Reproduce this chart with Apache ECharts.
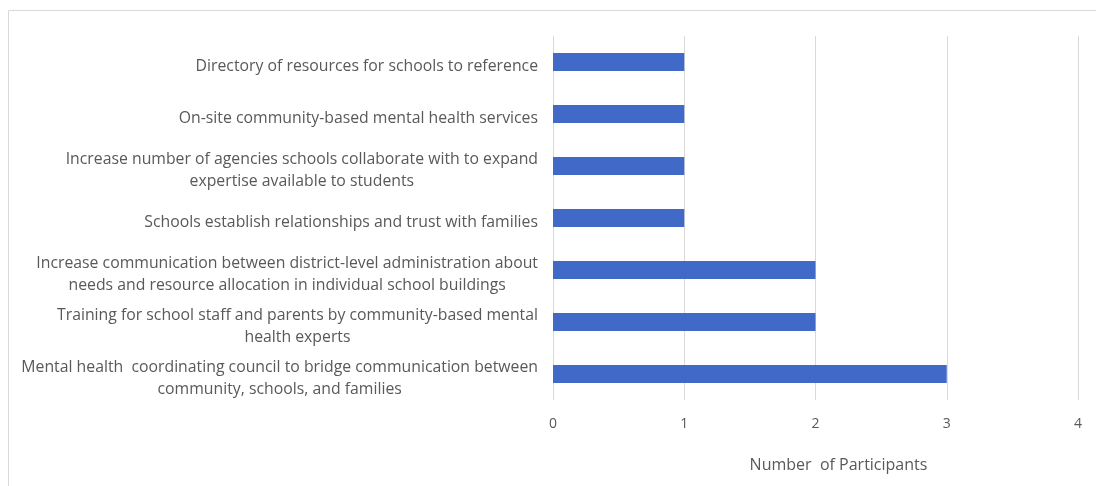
<!DOCTYPE html>
<html>
<head>
<meta charset="utf-8">
<script src="https://cdn.jsdelivr.net/npm/echarts@6/dist/echarts.min.js"></script>
<style>
  html, body { margin: 0; padding: 0; background: #fff; }
  #chart { width: 1096px; height: 486px; }
</style>
</head>
<body>
<div id="chart"></div>
<script>
// Categories listed bottom to top (as drawn on the category axis)
const categories = [
  "Mental health  coordinating council to bridge communication between\ncommunity, schools, and families",
  "Training for school staff and parents by community-based mental\nhealth experts",
  "Increase communication between district-level administration about\nneeds and resource allocation in individual school buildings",
  "Schools establish relationships and trust with families",
  "Increase number of agencies schools collaborate with to expand\nexpertise available to students",
  "On-site community-based mental health services",
  "Directory of resources for schools to reference"
];
const participants = [3, 2, 2, 1, 1, 1, 1];
const xTicks = [0, 1, 2, 3, 4];
const xAxisTitle = "Number  of Participants";

const textColor = '#595959';
const labelFont = 'Open Sans';
const chart = echarts.init(document.getElementById('chart'), null, { renderer: 'canvas' });
chart.setOption({
  animation: false,
  backgroundColor: '#ffffff',
  graphic: [{
    type: 'rect',
    shape: { x: 8.5, y: 10.5, width: 1200, height: 600 },
    style: { fill: 'none', stroke: '#d9d9d9', lineWidth: 1 },
    silent: true,
    z: -10
  }],
  grid: { left: 553, right: 18, top: 36, bottom: 86, containLabel: false },
  xAxis: {
    type: 'value',
    min: xTicks[0],
    max: xTicks[xTicks.length - 1],
    interval: 1,
    name: xAxisTitle,
    nameLocation: 'middle',
    nameGap: 57,
    nameTextStyle: {
      color: textColor, fontFamily: labelFont, fontSize: 16,
      padding: [0, 0, 0, 46]
    },
    axisLine: { show: false },
    axisTick: { show: false },
    axisLabel: { color: textColor, fontFamily: labelFont, fontSize: 14, margin: 17 },
    splitLine: { show: true, lineStyle: { color: '#d9d9d9', width: 1 } }
  },
  yAxis: {
    type: 'category',
    data: categories,
    axisLine: { show: false },
    axisTick: { show: false },
    splitLine: { show: false },
    axisLabel: {
      margin: 15,
      color: textColor,
      fontFamily: labelFont,
      fontSize: 15.8,
      lineHeight: 22,
      padding: [8, 0, 0, 0],
      formatter: function (v) {
        return v.split('\n').map(function (l) { return '{c|' + l + '}'; }).join('\n');
      },
      rich: {
        c: { align: 'center', color: textColor, fontFamily: labelFont, fontSize: 15.8, lineHeight: 22 }
      }
    }
  },
  series: [{
    type: 'bar',
    data: participants,
    barWidth: 18,
    itemStyle: { color: '#4169C8' }
  }]
});
</script>
</body>
</html>
